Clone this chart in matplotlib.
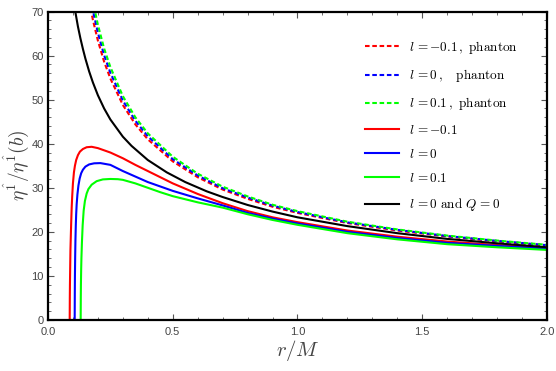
import numpy as np
import matplotlib
matplotlib.use("Agg")
import matplotlib.pyplot as plt
from matplotlib.ticker import MultipleLocator

plt.rcParams['mathtext.fontset'] = 'cm'
plt.rcParams['font.family'] = ['Liberation Sans', 'DejaVu Sans']

# values
r_phantom = [0.165, 0.18, 0.2, 0.225, 0.25, 0.3, 0.35, 0.4, 0.5, 0.6, 0.7,
             0.8, 0.9, 1.0, 1.2, 1.4, 1.6, 1.8, 2.0]
eta_ph_m01 = [72.3, 68.1, 63.4, 58.6, 54.8, 48.8, 44.4, 41.0, 36.0, 32.4, 29.6,
              27.5, 25.7, 24.3, 22.0, 20.3, 18.95, 17.85, 16.9]
eta_ph_0 = [74.7, 70.2, 65.2, 60.1, 56.1, 49.8, 45.2, 41.7, 36.5, 32.8, 29.9,
            27.8, 25.95, 24.5, 22.15, 20.45, 19.05, 17.95, 16.98]
eta_ph_01 = [77.1, 72.3, 67.0, 61.6, 57.4, 50.8, 46.0, 42.35, 37.05, 33.2, 30.25,
             28.05, 26.15, 24.7, 22.3, 20.55, 19.15, 18.02, 17.05]

r_m01 = [0.087, 0.0875, 0.088, 0.089, 0.09, 0.0915, 0.093, 0.095, 0.097, 0.1,
         0.104, 0.108, 0.113, 0.12, 0.128, 0.14, 0.155, 0.175, 0.2, 0.25, 0.3,
         0.35, 0.4, 0.45, 0.5, 0.6, 0.7, 0.8, 0.9, 1.0, 1.2, 1.4, 1.6, 1.8, 2.0]
eta_m01 = [0, 5, 8, 12, 15.9, 19, 22, 25.5, 28, 31.0, 33.5, 35.0, 36.3, 37.4,
           38.2, 38.8, 39.2, 39.3, 39.0, 38.0, 36.7, 35.2, 33.8, 32.4, 31.0,
           28.6, 26.5, 24.7, 23.3, 22.2, 20.3, 18.9, 17.8, 17.0, 16.4]

r_0 = [0.107, 0.1075, 0.108, 0.109, 0.11, 0.1115, 0.113, 0.115, 0.118, 0.122,
       0.127, 0.133, 0.14, 0.15, 0.165, 0.185, 0.21, 0.25, 0.3, 0.4, 0.5, 0.6,
       0.7, 0.8, 0.9, 1.0, 1.2, 1.4, 1.6, 1.8, 2.0]
eta_0 = [0, 6, 10, 14.5, 18, 21.5, 24.0, 26.3, 28.5, 30.5, 32.1, 33.3, 34.1,
         34.8, 35.3, 35.55, 35.6, 35.2, 33.8, 31.3, 29.3, 27.6, 26.0, 24.3,
         23.0, 21.9, 20.0, 18.6, 17.5, 16.8, 16.2]

r_01 = [0.131, 0.1315, 0.132, 0.133, 0.134, 0.136, 0.139, 0.143, 0.148, 0.155,
        0.162, 0.175, 0.195, 0.22, 0.25, 0.28, 0.3, 0.35, 0.4, 0.45, 0.5, 0.6,
        0.7, 0.8, 0.9, 1.0, 1.2, 1.4, 1.6, 1.8, 2.0]
eta_01 = [0, 5, 8, 11.5, 14, 17.5, 21.5, 24.8, 27.0, 28.7, 29.7, 30.7, 31.5,
          31.9, 32.0, 31.95, 31.8, 31.0, 30.0, 29.0, 28.1, 26.7, 25.5, 24.0,
          22.7, 21.6, 19.7, 18.3, 17.2, 16.5, 15.9]

r_q0 = [0.105, 0.11, 0.12, 0.13, 0.14, 0.15, 0.165, 0.18, 0.2, 0.225, 0.25,
        0.3, 0.335, 0.4, 0.476, 0.55, 0.636, 0.7, 0.8, 0.9, 1.0, 1.2, 1.4,
        1.6, 1.8, 2.0]
eta_q0 = [71.5, 69.8, 66.6, 63.9, 61.5, 59.3, 56.4, 53.9, 51.0, 48.0, 45.5,
          41.6, 39.5, 36.3, 33.5, 31.3, 29.2, 27.9, 26.1, 24.6, 23.3, 21.3,
          19.7, 18.4, 17.4, 16.5]

fig = plt.figure(figsize=(5.56, 3.71), dpi=100)
ax = fig.add_axes([0.0863, 0.1375, 0.8975, 0.8315])

dash = (0, (2.2, 1.3))
lw = 1.5
ax.plot(r_phantom, eta_ph_m01, color=(1, 0, 0), lw=lw, linestyle=dash,
        label=r'$l\,=-0.1\,,\ \mathrm{phanton}$')
ax.plot(r_phantom, eta_ph_0, color=(0, 0, 1), lw=lw, linestyle=dash,
        label=r'$l\,=0\,,\quad \mathrm{phanton}$')
ax.plot(r_phantom, eta_ph_01, color=(0, 1, 0), lw=lw, linestyle=dash,
        label=r'$l\,=0.1\,,\ \mathrm{phanton}$')
ax.plot(r_m01, eta_m01, color=(1, 0, 0), lw=lw, label=r'$l\,=-0.1$')
ax.plot(r_0, eta_0, color=(0, 0, 1), lw=lw, label=r'$l\,=0$')
ax.plot(r_01, eta_01, color=(0, 1, 0), lw=lw, label=r'$l\,=0.1$')
ax.plot(r_q0, eta_q0, color='black', lw=lw,
        label=r'$l\,=0\ \mathrm{and}\ Q\,=0$')

ax.set_xlim(0, 2)
ax.set_ylim(0, 70)
ax.xaxis.set_major_locator(MultipleLocator(0.5))
ax.xaxis.set_minor_locator(MultipleLocator(0.1))
ax.yaxis.set_major_locator(MultipleLocator(10))
ax.yaxis.set_minor_locator(MultipleLocator(2))
ax.xaxis.set_major_formatter(lambda v, p: '%.1f' % v)
ax.tick_params(which='both', direction='in', top=True, right=True,
               labelsize=8, labelcolor='#444444', color='#555555')
ax.tick_params(which='major', length=4, width=0.8, pad=3)
ax.tick_params(axis='x', which='major', pad=5)
ax.tick_params(which='minor', length=2.2, width=0.6)
for s in ax.spines.values():
    s.set_linewidth(1.6)

ax.set_xlabel(r'$r/M$', fontsize=15, color='#444444', labelpad=1)
ax.set_ylabel(r'$\eta^{\hat{1}}/\eta^{\hat{1}}(b)$', fontsize=14,
              color='#444444', labelpad=0)

ax.legend(loc='upper left', bbox_to_anchor=(0.6565, 0.895),
          bbox_transform=fig.transFigure, frameon=False, fontsize=9.5,
          borderpad=0, borderaxespad=0, handlelength=2.55,
          handletextpad=0.75, labelspacing=0.85)

fig.savefig('out.png', dpi=100)
